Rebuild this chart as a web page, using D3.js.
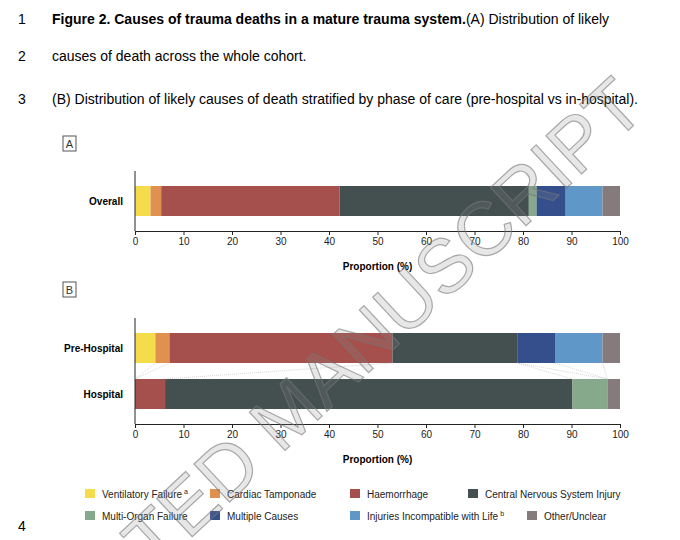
<!DOCTYPE html><html><head><meta charset="utf-8">
<script src="https://cdn.jsdelivr.net/npm/d3@7"></script>
<style>body{margin:0;background:#fff}text{font-family:"Liberation Sans",Arial,sans-serif}</style></head><body>
<svg id="c" width="680" height="540"></svg>
<script>
const categories=["Ventilatory Failure","Cardiac Tamponade","Haemorrhage","Central Nervous System Injury","Multi-Organ Failure","Multiple Causes","Injuries Incompatible with Life","Other/Unclear"];
const colors=["#f5dc4a","#e0904f","#a5504c","#444f50","#86a98b","#354f8c","#5f97c9","#857a7c"];
const overall=[3.2,2.2,36.8,39.0,1.6,6.0,7.6,3.6];
const preHospital=[4.2,2.9,46.0,25.7,0,7.8,9.8,3.6];
const hospital=[0,0,6.2,84.0,7.2,0,0,2.6];
const ticks=[0,10,20,30,40,50,60,70,80,90,100];
const svg=d3.select("#c");
const x=d3.scaleLinear().domain([0,100]).range([135,620]);
const cap=[["1",24,[["Figure 2. Causes of trauma deaths in a mature trauma system.",true],["(A) Distribution of likely",false]]],["2",61,[["causes of death across the whole cohort.",false]]],["3",104,[["(B) Distribution of likely causes of death stratified by phase of care (pre-hospital vs in-hospital).",false]]],["4",531,[]]];
cap.forEach(([n,y,parts])=>{svg.append("text").attr("x",18).attr("y",y).attr("font-size",14).text(n);
 const t=svg.append("text").attr("x",52).attr("y",y).attr("font-size",14);
 parts.forEach(([s,b])=>t.append("tspan").attr("font-weight",b?"bold":"normal").text(s));});
function panel(label,ly,rows,axisY){
 svg.append("rect").attr("x",63).attr("y",ly).attr("width",13).attr("height",15).attr("fill","none").attr("stroke","#555");
 svg.append("text").attr("x",69.5).attr("y",ly+12).attr("text-anchor","middle").attr("font-size",11).attr("fill","#333").text(label);
 rows.forEach(r=>{let c=0;r.vals.forEach((v,i)=>{if(v>0)svg.append("rect").attr("x",x(c)).attr("y",r.y).attr("width",x(c+v)-x(c)).attr("height",30).attr("fill",colors[i]);c+=v;});
  svg.append("text").attr("x",123).attr("y",r.y+19).attr("text-anchor","end").attr("font-size",10).attr("font-weight","bold").text(r.name);});
 const top=rows[0].y-15;
 svg.append("line").attr("x1",x(0)).attr("x2",x(0)).attr("y1",top).attr("y2",axisY).attr("stroke","#222");
 const g=svg.append("g").attr("transform",`translate(0,${axisY})`).call(d3.axisBottom(x).tickValues(ticks).tickSize(4).tickSizeOuter(0));
 g.selectAll("text").attr("font-size",10).attr("fill","#222");g.selectAll("line,path").attr("stroke","#222");
 svg.append("text").attr("x",x(50)).attr("y",axisY+39).attr("text-anchor","middle").attr("font-size",10).attr("font-weight","bold").text("Proportion (%)");
}
panel("A",136,[{name:"Overall",y:186,vals:overall}],231);
panel("B",282,[{name:"Pre-Hospital",y:333,vals:preHospital},{name:"Hospital",y:379,vals:hospital}],424);
let c1=0,c2=0;
preHospital.forEach((v,i)=>{c1+=v;c2+=hospital[i];if(i<7)svg.append("line").attr("x1",x(c1)).attr("y1",363).attr("x2",x(c2)).attr("y2",379).attr("stroke","#bbb").attr("stroke-width",0.6).attr("stroke-dasharray","1,1");});
const lx=[85,210,350,468,85,210,350,527];
categories.forEach((name,i)=>{const row=Math.floor(i/4);const X=lx[i],Y=489+row*22;
 svg.append("rect").attr("x",X).attr("y",Y).attr("width",10).attr("height",9).attr("fill",colors[i]);
 const t=svg.append("text").attr("x",X+17).attr("y",Y+8.5).attr("font-size",10).attr("fill","#222").text(name);
 if(i==0)t.append("tspan").attr("dy",-4).attr("font-size",7).text(" a");
 if(i==6)t.append("tspan").attr("dy",-4).attr("font-size",7).text(" b");});
svg.append("text").attr("transform","translate(648,112) rotate(-43)").attr("text-anchor","end").attr("font-family","Liberation Serif,serif").attr("font-size",76).attr("fill","#888").attr("fill-opacity",0.2).attr("stroke","#777").attr("stroke-width",1.2).attr("stroke-opacity",0.6).text("ACCEPTED MANUSCRIPT");
</script></body></html>
